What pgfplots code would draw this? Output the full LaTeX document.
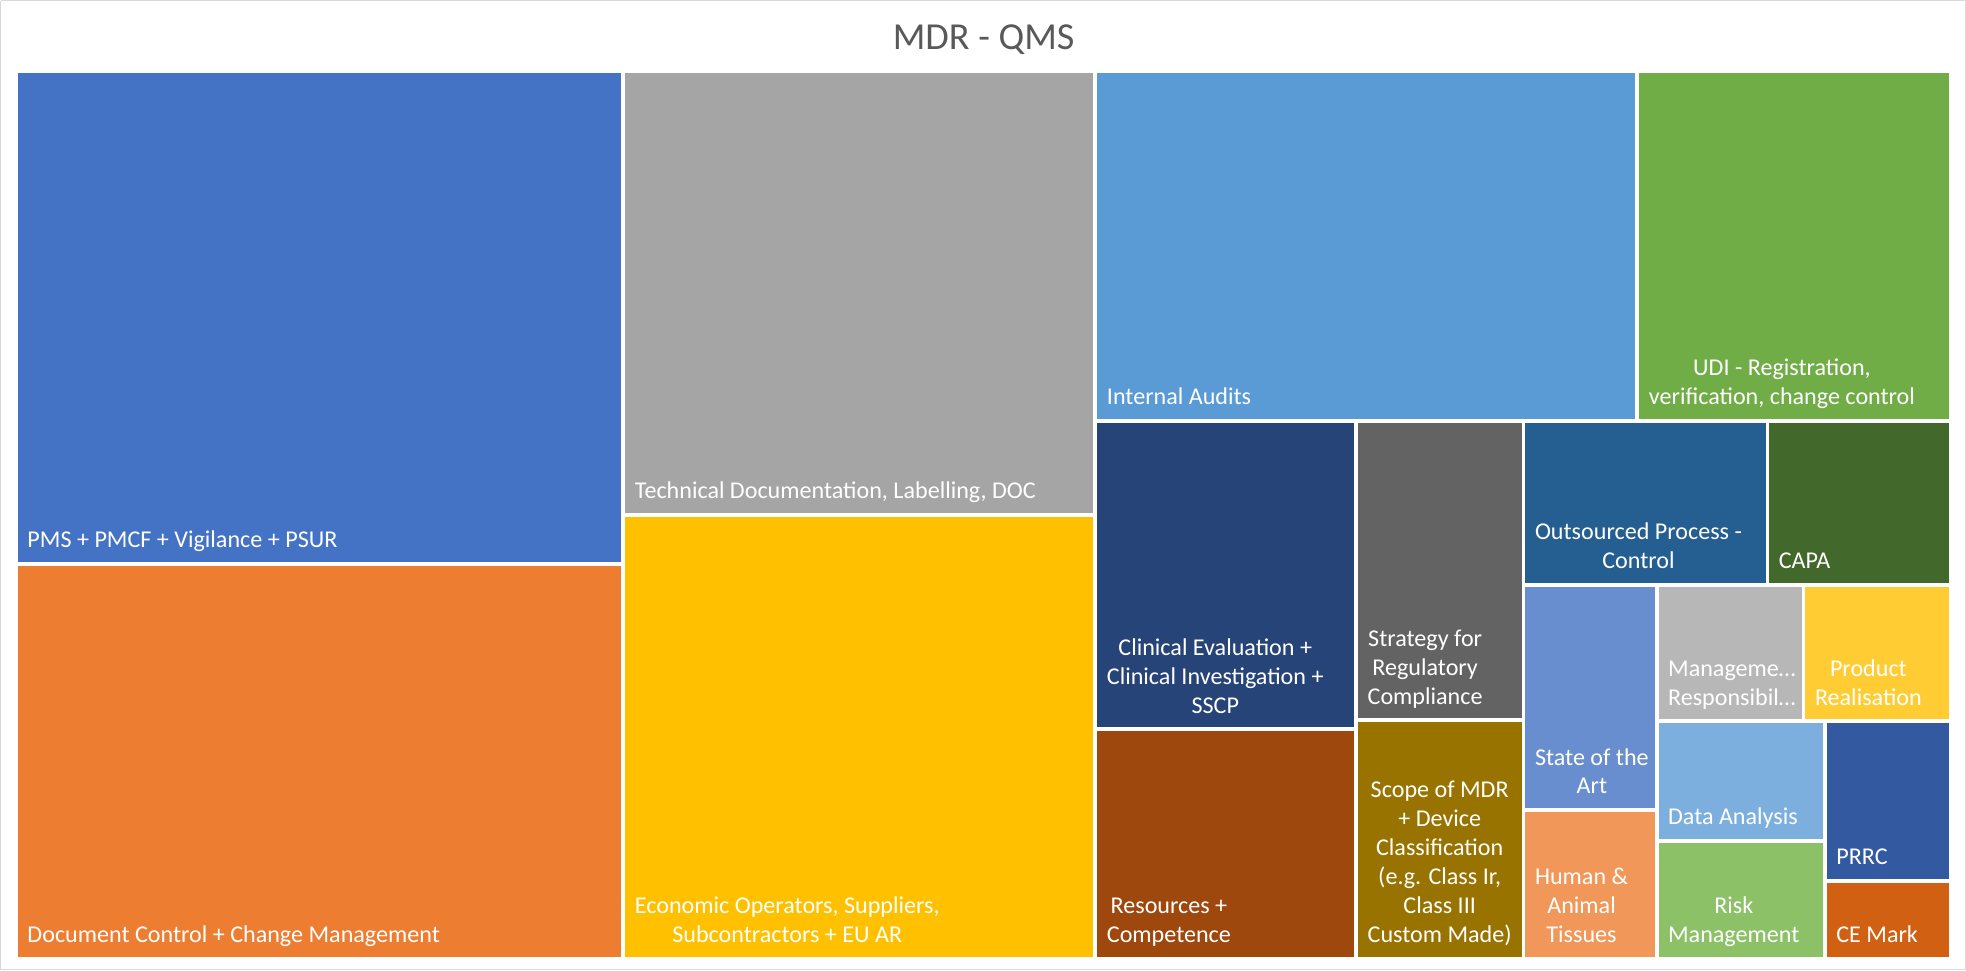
\documentclass[border=0pt]{standalone}
\usepackage{pgfplots}
\pgfplotsset{compat=1.18}
\usepackage{fontspec}
\setmainfont{Carlito}
\definecolor{cPMS}{HTML}{4472C4}
\definecolor{cDoc}{HTML}{ED7D31}
\definecolor{cTech}{HTML}{A5A5A5}
\definecolor{cEcon}{HTML}{FFC000}
\definecolor{cAud}{HTML}{5B9BD5}
\definecolor{cUDI}{HTML}{70AD47}
\definecolor{cClin}{HTML}{264478}
\definecolor{cRes}{HTML}{9E480E}
\definecolor{cStr}{HTML}{636363}
\definecolor{cScope}{HTML}{997300}
\definecolor{cOut}{HTML}{255E91}
\definecolor{cCAPA}{HTML}{43682B}
\definecolor{cState}{HTML}{698ED0}
\definecolor{cHum}{HTML}{F1975A}
\definecolor{cMgmt}{HTML}{B7B7B7}
\definecolor{cProd}{HTML}{FFCD33}
\definecolor{cData}{HTML}{7CAFDD}
\definecolor{cRisk}{HTML}{8CC168}
\definecolor{cPRRC}{HTML}{335AA1}
\definecolor{cCE}{HTML}{D26012}
\definecolor{cFrame}{HTML}{D9D9D9}
\definecolor{cTitle}{HTML}{595959}
\tikzset{lbl/.style={anchor=south west, inner sep=0pt, text depth=0pt, text=white, align=center, font=\fontsize{9.6}{11.5}\selectfont}}
\begin{document}
\begin{tikzpicture}
\begin{axis}[width=783pt, height=386.5pt, scale only axis,
  xmin=0, xmax=1566, ymin=0, ymax=773, y dir=reverse,
  hide axis, clip=false]
% frame
\addplot[draw=cFrame, line width=0.5pt] coordinates {(0.5,0.5) (1565.5,0.5) (1565.5,772.5) (0.5,772.5) (0.5,0.5)};
% tiles
\addplot[fill=cPMS, draw=none] coordinates {(14.2,58.5) (495,58.5) (495,447.8) (14.2,447.8)};
\addplot[fill=cDoc, draw=none] coordinates {(14.2,450.8) (495,450.8) (495,762) (14.2,762)};
\addplot[fill=cTech, draw=none] coordinates {(498,58.5) (871,58.5) (871,408.4) (498,408.4)};
\addplot[fill=cEcon, draw=none] coordinates {(498,411.4) (871,411.4) (871,762) (498,762)};
\addplot[fill=cAud, draw=none] coordinates {(874,58.5) (1302.7,58.5) (1302.7,333.7) (874,333.7)};
\addplot[fill=cUDI, draw=none] coordinates {(1305.7,58.5) (1552.6,58.5) (1552.6,333.7) (1305.7,333.7)};
\addplot[fill=cClin, draw=none] coordinates {(874,336.7) (1078.8,336.7) (1078.8,579.4) (874,579.4)};
\addplot[fill=cRes, draw=none] coordinates {(874,582.4) (1078.8,582.4) (1078.8,762) (874,762)};
\addplot[fill=cStr, draw=none] coordinates {(1081.8,336.7) (1212,336.7) (1212,572.2) (1081.8,572.2)};
\addplot[fill=cScope, draw=none] coordinates {(1081.8,575.2) (1212,575.2) (1212,762) (1081.8,762)};
\addplot[fill=cOut, draw=none] coordinates {(1215,336.7) (1406.3,336.7) (1406.3,464.5) (1215,464.5)};
\addplot[fill=cCAPA, draw=none] coordinates {(1409.3,336.7) (1552.6,336.7) (1552.6,464.5) (1409.3,464.5)};
\addplot[fill=cState, draw=none] coordinates {(1215,467.5) (1318.1,467.5) (1318.1,643.8) (1215,643.8)};
\addplot[fill=cHum, draw=none] coordinates {(1215,646.8) (1318.1,646.8) (1318.1,762) (1215,762)};
\addplot[fill=cMgmt, draw=none] coordinates {(1321.1,467.5) (1435.1,467.5) (1435.1,573) (1321.1,573)};
\addplot[fill=cProd, draw=none] coordinates {(1438.1,467.5) (1552.6,467.5) (1552.6,573) (1438.1,573)};
\addplot[fill=cData, draw=none] coordinates {(1321.1,576) (1452.1,576) (1452.1,668.2) (1321.1,668.2)};
\addplot[fill=cRisk, draw=none] coordinates {(1321.1,671.2) (1452.1,671.2) (1452.1,762) (1321.1,762)};
\addplot[fill=cPRRC, draw=none] coordinates {(1455.1,576) (1552.6,576) (1552.6,700.2) (1455.1,700.2)};
\addplot[fill=cCE, draw=none] coordinates {(1455.1,703.2) (1552.6,703.2) (1552.6,762) (1455.1,762)};
% title
\node[anchor=base, inner sep=0pt, text=cTitle, font=\fontsize{15.2}{18}\selectfont] at (axis cs:783.5,39.8) {MDR - QMS};
% labels
\node[lbl] at (axis cs:21.5,436.8) {PMS + PMCF + Vigilance + PSUR};
\node[lbl] at (axis cs:21.5,751) {Document Control + Change Management};
\node[lbl] at (axis cs:505.3,397.4) {Technical Documentation, Labelling, DOC};
\node[lbl] at (axis cs:505.3,751) {Economic Operators, Suppliers,\\Subcontractors + EU AR};
\node[lbl] at (axis cs:881.3,322.7) {Internal Audits};
\node[lbl] at (axis cs:1313,322.7) {UDI - Registration,\\verification, change control};
\node[lbl] at (axis cs:881.3,568.4) {Clinical Evaluation +\\Clinical Investigation +\\SSCP};
\node[lbl] at (axis cs:881.3,751) {Resources +\\Competence};
\node[lbl] at (axis cs:1089,561.2) {Strategy for\\Regulatory\\Compliance};
\node[lbl] at (axis cs:1089,751) {Scope of MDR\\+ Device\\Classification\\(e.g. Class Ir,\\Class III\\Custom Made)};
\node[lbl] at (axis cs:1222.3,453.5) {Outsourced Process -\\Control};
\node[lbl] at (axis cs:1416.5,453.5) {CAPA};
\node[lbl] at (axis cs:1222.3,632.8) {State of the\\Art};
\node[lbl] at (axis cs:1222.3,751) {Human \&\\Animal\\Tissues};
\node[lbl] at (axis cs:1328.3,562) {Manageme…\\Responsibil…};
\node[lbl] at (axis cs:1445.3,562) {Product\\Realisation};
\node[lbl] at (axis cs:1328.3,657.2) {Data Analysis};
\node[lbl] at (axis cs:1328.3,751) {Risk\\Management};
\node[lbl] at (axis cs:1462.3,689.2) {PRRC};
\node[lbl] at (axis cs:1462.3,751) {CE Mark};
\end{axis}
\end{tikzpicture}
\end{document}
